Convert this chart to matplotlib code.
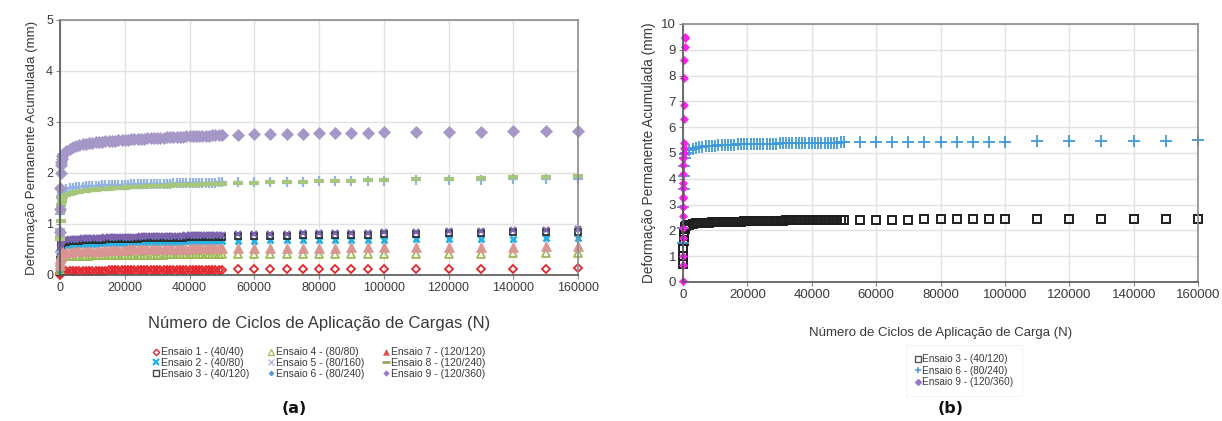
import matplotlib
matplotlib.use("Agg")
import matplotlib.pyplot as plt
from matplotlib.lines import Line2D

plt.rcParams['font.family'] = ['Liberation Sans', 'DejaVu Sans']

# ---------------- cycle counts (N) ----------------
x_early = [0, 50, 100, 200, 300, 400, 500, 750]
x_dense = list(range(1000, 50001, 1000))
x_sparse = [55000, 60000, 65000, 70000, 75000, 80000, 85000, 90000, 95000, 100000,
            110000, 120000, 130000, 140000, 150000, 160000]
x_all = x_early + x_dense + x_sparse

# ---------------- panel (a) ----------------
labels_a = ["Ensaio 1 - (40/40)", "Ensaio 2 - (40/80)", "Ensaio 3 - (40/120)",
            "Ensaio 4 - (80/80)", "Ensaio 5 - (80/160)", "Ensaio 6 - (80/240)",
            "Ensaio 7 - (120/120)", "Ensaio 8 - (120/240)", "Ensaio 9 - (120/360)"]

e1 = ([0.00, 0.02, 0.04, 0.05, 0.06, 0.06, 0.07, 0.07] +
      [0.07, 0.07, 0.07, 0.07, 0.08, 0.08, 0.08, 0.08, 0.08, 0.08,
       0.08, 0.08, 0.08, 0.08, 0.09, 0.09, 0.09, 0.09, 0.09, 0.09,
       0.09, 0.09, 0.09, 0.09, 0.09, 0.09, 0.09, 0.09, 0.10, 0.10,
       0.10, 0.10, 0.10, 0.10, 0.10, 0.10, 0.10, 0.10, 0.10, 0.10,
       0.10, 0.10, 0.10, 0.10, 0.10, 0.10, 0.10, 0.10, 0.10, 0.10] +
      [0.11, 0.11, 0.11, 0.11, 0.11, 0.11, 0.11, 0.11, 0.11, 0.12,
       0.12, 0.12, 0.12, 0.12, 0.12, 0.13])
e2 = ([0.05, 0.20, 0.35, 0.45, 0.50, 0.53, 0.55, 0.56] +
      [0.57, 0.58, 0.59, 0.59, 0.60, 0.60, 0.60, 0.61, 0.61, 0.61,
       0.61, 0.62, 0.62, 0.62, 0.62, 0.62, 0.63, 0.63, 0.63, 0.63,
       0.63, 0.63, 0.64, 0.64, 0.64, 0.64, 0.64, 0.64, 0.64, 0.65,
       0.65, 0.65, 0.65, 0.65, 0.65, 0.65, 0.65, 0.66, 0.66, 0.66,
       0.66, 0.66, 0.66, 0.66, 0.66, 0.66, 0.67, 0.67, 0.67, 0.67] +
      [0.67, 0.67, 0.68, 0.68, 0.68, 0.68, 0.69, 0.69, 0.69, 0.69,
       0.70, 0.70, 0.71, 0.71, 0.72, 0.72])
e3 = ([0.05, 0.15, 0.30, 0.45, 0.55, 0.60, 0.62, 0.63] +
      [0.64, 0.65, 0.66, 0.66, 0.67, 0.67, 0.68, 0.68, 0.68, 0.69,
       0.69, 0.69, 0.69, 0.70, 0.70, 0.70, 0.70, 0.70, 0.71, 0.71,
       0.71, 0.71, 0.71, 0.71, 0.72, 0.72, 0.72, 0.72, 0.72, 0.72,
       0.72, 0.73, 0.73, 0.73, 0.73, 0.73, 0.73, 0.73, 0.74, 0.74,
       0.74, 0.74, 0.74, 0.74, 0.74, 0.75, 0.75, 0.75, 0.75, 0.75] +
      [0.76, 0.76, 0.77, 0.77, 0.78, 0.78, 0.78, 0.79, 0.79, 0.80,
       0.81, 0.82, 0.83, 0.84, 0.84, 0.85])
e4 = ([0.10, 0.20, 0.28, 0.32, 0.34, 0.35, 0.36, 0.36] +
      [0.37, 0.37, 0.37, 0.38, 0.38, 0.38, 0.38, 0.38, 0.38, 0.39,
       0.39, 0.39, 0.39, 0.39, 0.39, 0.39, 0.39, 0.39, 0.40, 0.40,
       0.40, 0.40, 0.40, 0.40, 0.40, 0.40, 0.40, 0.40, 0.40, 0.40,
       0.40, 0.40, 0.41, 0.41, 0.41, 0.41, 0.41, 0.41, 0.41, 0.41,
       0.41, 0.41, 0.41, 0.41, 0.41, 0.41, 0.41, 0.41, 0.41, 0.41] +
      [0.41, 0.41, 0.41, 0.41, 0.41, 0.41, 0.42, 0.42, 0.42, 0.42,
       0.42, 0.42, 0.42, 0.43, 0.43, 0.43])
e5 = ([0.35, 0.45, 0.52, 0.58, 0.62, 0.64, 0.66, 0.67] +
      [0.68, 0.69, 0.70, 0.70, 0.71, 0.71, 0.72, 0.72, 0.72, 0.73,
       0.73, 0.73, 0.73, 0.74, 0.74, 0.74, 0.74, 0.74, 0.75, 0.75,
       0.75, 0.75, 0.75, 0.75, 0.76, 0.76, 0.76, 0.76, 0.76, 0.76,
       0.76, 0.77, 0.77, 0.77, 0.77, 0.77, 0.77, 0.77, 0.78, 0.78,
       0.78, 0.78, 0.78, 0.78, 0.78, 0.79, 0.79, 0.79, 0.79, 0.79] +
      [0.80, 0.80, 0.81, 0.81, 0.82, 0.82, 0.82, 0.83, 0.83, 0.84,
       0.85, 0.86, 0.87, 0.88, 0.88, 0.90])
e6 = ([0.45, 0.90, 1.20, 1.40, 1.50, 1.55, 1.58, 1.62] +
      [1.65, 1.68, 1.70, 1.71, 1.72, 1.73, 1.73, 1.74, 1.74, 1.75,
       1.75, 1.75, 1.76, 1.76, 1.76, 1.76, 1.77, 1.77, 1.77, 1.77,
       1.77, 1.78, 1.78, 1.78, 1.78, 1.78, 1.78, 1.79, 1.79, 1.79,
       1.79, 1.79, 1.79, 1.79, 1.80, 1.80, 1.80, 1.80, 1.80, 1.80,
       1.80, 1.81, 1.81, 1.81, 1.81, 1.81, 1.81, 1.81, 1.82, 1.82] +
      [1.82, 1.82, 1.83, 1.83, 1.83, 1.84, 1.84, 1.84, 1.85, 1.85,
       1.86, 1.87, 1.87, 1.88, 1.88, 1.89])
e7 = ([0.20, 0.28, 0.33, 0.37, 0.40, 0.42, 0.43, 0.44] +
      [0.45, 0.46, 0.46, 0.47, 0.47, 0.47, 0.47, 0.48, 0.48, 0.48,
       0.48, 0.48, 0.48, 0.49, 0.49, 0.49, 0.49, 0.49, 0.49, 0.49,
       0.50, 0.50, 0.50, 0.50, 0.50, 0.50, 0.50, 0.50, 0.50, 0.51,
       0.51, 0.51, 0.51, 0.51, 0.51, 0.51, 0.51, 0.51, 0.51, 0.52,
       0.52, 0.52, 0.52, 0.52, 0.52, 0.52, 0.52, 0.52, 0.52, 0.52] +
      [0.52, 0.53, 0.53, 0.53, 0.53, 0.53, 0.53, 0.54, 0.54, 0.54,
       0.54, 0.55, 0.55, 0.55, 0.56, 0.56])
e8 = ([0.70, 0.75, 0.85, 1.05, 1.25, 1.38, 1.45, 1.50] +
      [1.53, 1.57, 1.59, 1.61, 1.62, 1.63, 1.64, 1.65, 1.66, 1.67,
       1.67, 1.68, 1.68, 1.69, 1.69, 1.70, 1.70, 1.71, 1.71, 1.71,
       1.72, 1.72, 1.72, 1.73, 1.73, 1.73, 1.74, 1.74, 1.74, 1.74,
       1.75, 1.75, 1.75, 1.75, 1.76, 1.76, 1.76, 1.76, 1.77, 1.77,
       1.77, 1.77, 1.77, 1.78, 1.78, 1.78, 1.78, 1.78, 1.79, 1.79] +
      [1.80, 1.81, 1.82, 1.82, 1.83, 1.84, 1.84, 1.85, 1.86, 1.86,
       1.88, 1.89, 1.91, 1.92, 1.93, 1.95])
e9 = ([0.85, 1.30, 1.70, 2.00, 2.15, 2.22, 2.27, 2.33] +
      [2.38, 2.44, 2.48, 2.51, 2.53, 2.55, 2.56, 2.57, 2.58, 2.59,
       2.60, 2.61, 2.61, 2.62, 2.62, 2.63, 2.63, 2.64, 2.64, 2.65,
       2.65, 2.66, 2.66, 2.66, 2.67, 2.67, 2.68, 2.68, 2.68, 2.69,
       2.69, 2.69, 2.70, 2.70, 2.70, 2.71, 2.71, 2.71, 2.72, 2.72,
       2.72, 2.72, 2.73, 2.73, 2.73, 2.73, 2.74, 2.74, 2.74, 2.74] +
      [2.75, 2.76, 2.76, 2.77, 2.77, 2.78, 2.78, 2.79, 2.79, 2.80,
       2.80, 2.81, 2.81, 2.82, 2.82, 2.83])
series_a = [e1, e2, e3, e4, e5, e6, e7, e8, e9]

# ---------------- panel (b) ----------------
labels_b = ["Ensaio 3 - (40/120)", "Ensaio 6 - (80/240)", "Ensaio 9 - (120/360)"]
b3 = ([0.70, 1.00, 1.30, 1.60, 1.80, 1.95, 2.05, 2.12] +
      [2.18, 2.22, 2.25, 2.27, 2.28, 2.29, 2.30, 2.30, 2.31, 2.31,
       2.32, 2.32, 2.33, 2.33, 2.33, 2.34, 2.34, 2.34, 2.35, 2.35,
       2.35, 2.36, 2.36, 2.36, 2.37, 2.37, 2.37, 2.38, 2.38, 2.38,
       2.38, 2.39, 2.39, 2.39, 2.39, 2.40, 2.40, 2.40, 2.40, 2.40,
       2.41, 2.41, 2.41, 2.41, 2.41, 2.42, 2.42, 2.42, 2.42, 2.42] +
      [2.42, 2.42, 2.42, 2.42, 2.43, 2.43, 2.43, 2.43, 2.43, 2.43,
       2.44, 2.44, 2.44, 2.45, 2.45, 2.45])
b6 = ([1.50, 2.10, 2.90, 3.60, 4.10, 4.50, 4.80, 4.95] +
      [5.00, 5.10, 5.17, 5.20, 5.23, 5.25, 5.26, 5.27, 5.28, 5.29,
       5.30, 5.30, 5.31, 5.31, 5.32, 5.32, 5.33, 5.33, 5.33, 5.34,
       5.34, 5.34, 5.35, 5.35, 5.35, 5.36, 5.36, 5.36, 5.36, 5.37,
       5.37, 5.37, 5.37, 5.38, 5.38, 5.38, 5.38, 5.38, 5.39, 5.39,
       5.39, 5.39, 5.39, 5.40, 5.40, 5.40, 5.40, 5.40, 5.41, 5.41] +
      [5.41, 5.42, 5.42, 5.42, 5.43, 5.43, 5.43, 5.44, 5.44, 5.44,
       5.45, 5.46, 5.46, 5.47, 5.48, 5.49])
x_b9 = [1, 10, 20, 30, 40, 50, 60, 70, 80, 90, 100, 120, 140, 160, 180,
        200, 250, 300, 350, 400, 450, 500, 550, 600]
b9 = [0.05, 0.65, 1.00, 1.70, 2.10, 2.55, 2.90, 3.25, 3.30, 3.65, 3.85, 4.20,
      4.55, 4.80, 5.00, 5.20, 5.40, 6.30, 6.85, 7.90, 8.60, 9.10, 9.45, 9.50]

# ---------------- styles ----------------
styles_a = [
    dict(marker='D', ms=4.2, mfc='none', mec='#E3262B', mew=1.3),
    dict(marker='x', ms=5, mec='#22B2E6', mew=2.0),
    dict(marker='s', ms=5, mfc='none', mec='#2E2E2E', mew=1.3),
    dict(marker='^', ms=5.5, mfc='none', mec='#9BBB59', mew=1.3),
    dict(marker='x', ms=5, mec='#7D62AE', mew=1.5),
    dict(marker='+', ms=7, mec='#93B4E0', mew=1.6),
    dict(marker='^', ms=7, mfc='#D99592', mec='#D99592', mew=0.5),
    dict(marker='_', ms=7.5, mec='#A5C67B', mew=3.0),
    dict(marker='D', ms=6.5, mfc='#A697C9', mec='#A697C9', mew=0.5),
]
leg_styles = [
    dict(marker='D', ms=3.2, mfc='none', mec='#E3262B', mew=1.0),
    dict(marker='x', ms=3.8, mec='#22B2E6', mew=1.6),
    dict(marker='s', ms=4.0, mfc='none', mec='#444444', mew=1.0),
    dict(marker='^', ms=4.0, mfc='none', mec='#9BBB59', mew=0.9),
    dict(marker='x', ms=4.0, mec='#B7A8D8', mew=0.9),
    dict(marker='D', ms=2.6, mfc='#4F9BD9', mec='#4F9BD9', mew=0.4),
    dict(marker='^', ms=4.0, mfc='#D9534F', mec='#D9534F', mew=0.4),
    dict(marker='_', ms=5.5, mec='#8EA860', mew=2.0),
    dict(marker='D', ms=2.8, mfc='#9878C8', mec='#9878C8', mew=0.4),
]

fig = plt.figure(figsize=(12.22, 4.21), dpi=100)
ax1 = fig.add_axes([0.0491, 0.3468, 0.4239, 0.6057])
ax2 = fig.add_axes([0.5589, 0.3302, 0.4215, 0.6128])

txt = '#3a3a3a'
for ax in (ax1, ax2):
    ax.set_facecolor('white')
    ax.grid(True, color='#e2e2e2', lw=1.0)
    ax.set_axisbelow(True)
    ax.set_xlim(0, 160000)
    ax.set_xticks(range(0, 160001, 20000))
    ax.tick_params(length=3, color='#888888', labelcolor=txt, pad=2)
    for s in ('top', 'right'):
        ax.spines[s].set_color('#8c8c8c')
    for s in ('left', 'bottom'):
        ax.spines[s].set_color('#555555')
    for s in ax.spines.values():
        s.set_linewidth(1.2)

# panel (a)
for y, lab, st in zip(series_a, labels_a, styles_a):
    ax1.plot(x_all, y, ls='none', label=lab, clip_on=False, **st)
ax1.set_ylim(0, 5)
ax1.set_yticks([0, 1, 2, 3, 4, 5])
ax1.tick_params(labelsize=9)
ax1.set_ylabel('Deformação Permanente Acumulada (mm)', fontsize=9.6, color=txt, labelpad=6)
ax1.set_xlabel('Número de Ciclos de Aplicação de Cargas (N)', fontsize=12, color=txt, labelpad=16)

handles_a = [Line2D([], [], ls='none', label=lab, **st) for st, lab in zip(leg_styles, labels_a)]
fig.legend(handles=handles_a, ncol=3, loc='upper left', bbox_to_anchor=(0.118, 0.192),
           frameon=False, fontsize=7.5, handlelength=0.8, handletextpad=0.15,
           columnspacing=1.6, labelspacing=0.05, borderpad=0.2, labelcolor=txt)

# panel (b)
ax2.plot(x_all, b3, ls='none', marker='s', ms=6, mfc='none', mec='#1e1e1e', mew=1.4,
         clip_on=False)
ax2.plot(x_all, b6, ls='none', marker='+', ms=8, mec='#3E9BD8', mew=1.3, clip_on=False)
ax2.plot(x_b9, b9, ls='none', marker='D', ms=4.5, mfc='#FF1EF0', mec='#FF1EF0', mew=0.5,
         clip_on=False)
ax2.set_ylim(0, 10)
ax2.set_yticks(range(0, 11))
ax2.tick_params(labelsize=9.5)
ax2.set_ylabel('Deformação Permanente Acumulada (mm)', fontsize=9.8, color=txt, labelpad=4)
ax2.set_xlabel('Número de Ciclos de Aplicação de Carga (N)', fontsize=9.5, color=txt, labelpad=19)

handles_b = [
    Line2D([], [], ls='none', marker='s', ms=4.5, mfc='none', mec='#555555', mew=1.0, label=labels_b[0]),
    Line2D([], [], ls='none', marker='+', ms=5, mec='#4F9BD9', mew=1.2, label=labels_b[1]),
    Line2D([], [], ls='none', marker='D', ms=3.0, mfc='#9878C8', mec='#9878C8', label=labels_b[2]),
]
leg_b = fig.legend(handles=handles_b, ncol=1, loc='upper left', bbox_to_anchor=(0.737, 0.192),
                   frameon=True, fontsize=7.2, handlelength=0.6, handletextpad=0.15,
                   labelspacing=0.15, borderpad=0.9, labelcolor=txt, fancybox=False)
leg_b.get_frame().set_edgecolor('#f2f2f2')
leg_b.get_frame().set_linewidth(0.8)

fig.text(0.2405, 0.03, '(a)', fontsize=11.5, fontweight='bold', family='DejaVu Sans',
         ha='center', va='center', color='#111111')
fig.text(0.778, 0.03, '(b)', fontsize=11.5, fontweight='bold', family='DejaVu Sans',
         ha='center', va='center', color='#111111')

fig.savefig('out.png', dpi=100, facecolor='white')
